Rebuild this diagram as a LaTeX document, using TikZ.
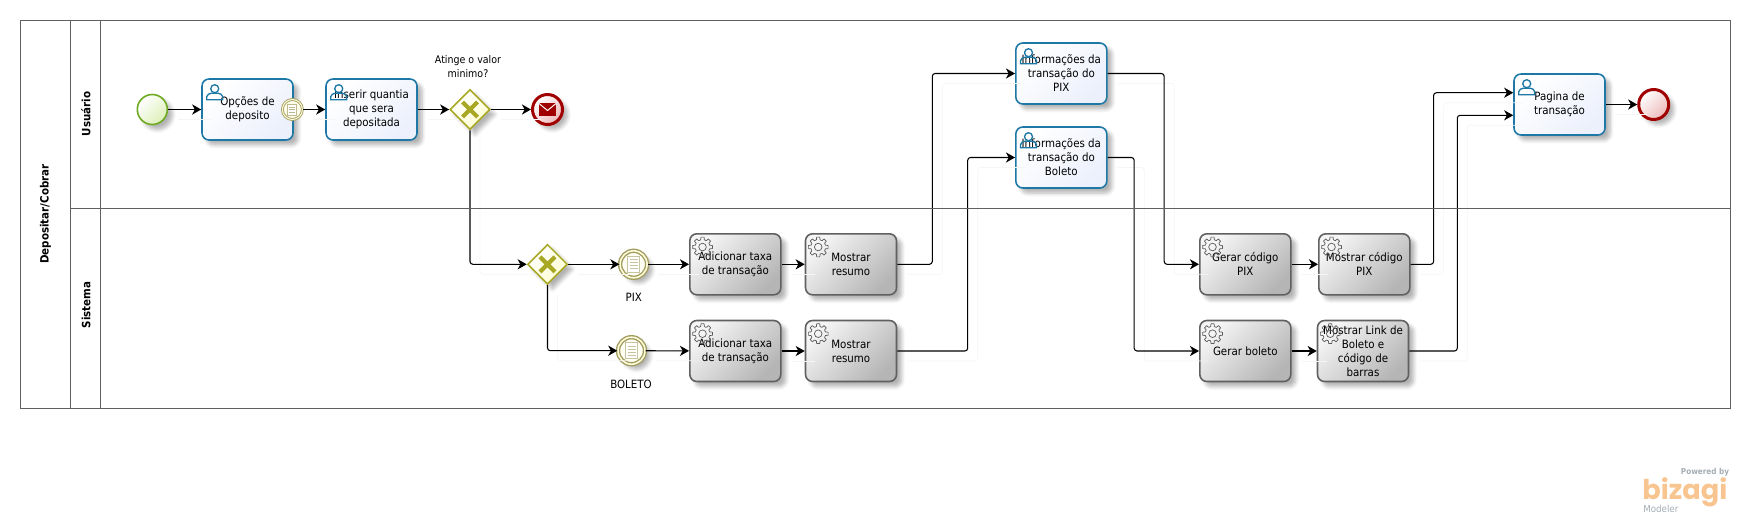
\documentclass[tikz,border=0pt]{standalone}
\usepackage{fontspec}
\setmainfont{DejaVu Sans Condensed}
\newfontfamily\logofont{Poppins}
\usepackage{tikz}
\usetikzlibrary{arrows.meta, shapes.geometric, shadows.blur}
\definecolor{poolgray}{HTML}{606060}
\definecolor{taskblue}{HTML}{1D78A6}
\definecolor{userfill}{HTML}{ECF0FC}
\definecolor{ringolive}{HTML}{A29D62}
\definecolor{gateolive}{HTML}{A8A824}
\definecolor{gearline}{HTML}{5A5A5A}
\definecolor{startgreen}{HTML}{6DAA20}
\definecolor{startfill}{HTML}{DDEFB8}
\definecolor{endred}{HTML}{A00000}
\definecolor{endfill}{HTML}{EDB9B9}
\definecolor{logoorange}{HTML}{F8C591}
\definecolor{logogray}{HTML}{A3ADB3}
\tikzset{
  usericon/.pic={
    \draw[taskblue,line width=0.75pt] (13.5,10.5) circle (4);
    \draw[taskblue,line width=0.75pt] (5.5,21.5) -- (5.5,18.5) .. controls (6,16) and (8,15.5) .. (10,15) -- (17,15) .. controls (19,15.5) and (21,16) .. (21.5,18.5) -- (21.5,21.5) -- cycle;
  },
  gearicon/.pic={
    \begin{scope}[shift={(13.5,14)}]
    \draw[gearline,line width=0.4pt] (0,0) circle (3.8);
    \foreach \a in {0,45,...,315}
      \draw[gearline,line width=0.4pt,line join=round] (\a-9:10) -- (\a+9:10) -- (\a+14:7.4) -- (\a+31:7.4) -- (\a+36:10);
    \end{scope}
  },
  docicon/.pic={
    \draw[ringolive!60,line width=0.55pt,fill=white] (-6,-8) rectangle (6,8);
    \foreach \y in {-4.5,-1.5,1.5,4.5}
      \draw[ringolive!60,line width=0.55pt] (-4,\y) -- (4,\y);
  },
  smalldoc/.pic={
    \draw[ringolive!70,line width=0.5pt,fill=white] (-4.5,-5.5) rectangle (4.5,5.5);
    \foreach \y in {-2.5,0,2.5}
      \draw[ringolive!70,line width=0.5pt] (-3,\y) -- (3,\y);
  },
  mailicon/.pic={
    \fill[endred] (-8.5,-6.5) rectangle (8.5,6.5);
    \draw[white,line width=0.55pt] (-8.5,-6) -- (0,1) -- (8.5,-6);
  },
  gatecross/.pic={
    \draw[gateolive,line width=2.4pt] (-7.5,-7.5) -- (7.5,7.5) (-7.5,7.5) -- (7.5,-7.5);
  }
}
\begin{document}
\begin{tikzpicture}[x=0.02cm,y=-0.02cm]
\tikzstyle{softshadow}=[blur shadow={shadow xshift=0.1cm,shadow yshift=-0.1cm,shadow blur steps=6,shadow opacity=30}]
\tikzstyle{tasktext}=[font=\fontsize{6.5pt}{7.97pt}\selectfont,align=center,inner sep=0pt,text=black]
\tikzstyle{usertask}=[rectangle,rounded corners=0.14cm,draw=taskblue,line width=0.9pt,minimum width=1.82cm,minimum height=1.22cm,top color=white,bottom color=userfill,shading angle=45,softshadow,tasktext]
\tikzstyle{servtask}=[rectangle,rounded corners=0.14cm,draw=poolgray,line width=0.9pt,minimum width=1.82cm,minimum height=1.22cm,top color=black!4,bottom color=black!29,shading angle=45,softshadow,tasktext]
\tikzstyle{gateway}=[diamond,aspect=1,draw=gateolive,line width=0.9pt,minimum size=0.8cm,inner sep=0pt,top color=white,bottom color=yellow!18,shading angle=45,softshadow]
\tikzstyle{startev}=[circle,draw=startgreen,line width=0.9pt,minimum size=0.6cm,inner sep=0pt,top color=white,bottom color=startfill,shading angle=45,softshadow]
\tikzstyle{endev}=[circle,draw=endred,line width=1.7pt,minimum size=0.6cm,inner sep=0pt,top color=white,bottom color=endfill,shading angle=45,softshadow]
\tikzstyle{ruleev}=[circle,draw=ringolive,double=yellow!15,double distance=0.9pt,line width=0.8pt,minimum size=0.54cm,inner sep=0pt,fill=yellow!5,softshadow]
\tikzstyle{attachev}=[circle,draw=ringolive,double=yellow!15,double distance=0.6pt,line width=0.5pt,minimum size=0.4cm,inner sep=0pt,fill=yellow!8]
\tikzstyle{evlabel}=[font=\fontsize{6.5pt}{7.97pt}\selectfont,align=center,inner sep=0pt]
\tikzstyle{lanelabel}=[font=\fontsize{6.5pt}{7.97pt}\selectfont\bfseries,rotate=90,inner sep=0pt]
\tikzstyle{flow}=[-{Stealth[length=5.2pt,width=5.8pt,inset=1.6pt]},line width=0.6pt,rounded corners=1.6pt,preaction={draw=black!4,-,transform canvas={shift={(0.2cm,-0.2cm)}}}]

\useasboundingbox (0,0) rectangle (1750,521);

\node[lanelabel] (poolname) at (45.5,214) {Depositar/Cobrar};
\node[lanelabel] (laneuser) at (86,114) {Usuário};
\node[lanelabel] (lanesys) at (86,305) {Sistema};

\node[startev] (start) at (152.3,109.5) {};
\node[usertask] (options) at (247.5,109.5) {Opções de\\deposito};
\node[usertask] (amount) at (371.5,109.5) {Inserir quantia\\que sera\\depositada};
\node[gateway] (gwvalue) at (470,109.5) {};
\node[evlabel,font=\fontsize{6pt}{7.97pt}\selectfont] (gwtext) at (468,67) {Atinge o valor\\minimo?};
\node[endev] (mailend) at (547.5,109.5) {};
\node[attachev] (attach) at (292.4,109.5) {};

\node[gateway] (gwpay) at (547.5,264.3) {};
\node[ruleev] (evpix) at (633.6,264.3) {};
\node[evlabel] (pixtext) at (633.7,297) {PIX};
\node[ruleev] (evbol) at (631.5,350.7) {};
\node[evlabel] (boltext) at (631,384) {BOLETO};
\node[servtask] (feepix) at (735.3,264.3) {Adicionar taxa\\de transação};
\node[servtask] (sumpix) at (851,264.3) {Mostrar\\resumo};
\node[servtask] (feebol) at (735.3,351) {Adicionar taxa\\de transação};
\node[servtask] (sumbol) at (851,351) {Mostrar\\resumo};
\node[usertask] (infopix) at (1061.3,73.5) {Informações da\\transação do\\PIX};
\node[usertask] (infobol) at (1061.3,157.5) {Informações da\\transação do\\Boleto};
\node[servtask] (genpix) at (1245.3,264.3) {Gerar código\\PIX};
\node[servtask] (showpix) at (1364.3,264.3) {Mostrar código\\PIX};
\node[servtask] (genbol) at (1245.3,351) {Gerar boleto};
\node[servtask] (showbol) at (1363,351) {Mostrar Link de\\Boleto e\\código de\\barras};
\node[usertask] (page) at (1559.5,104.5) {Pagina de\\transação};
\node[endev] (finish) at (1653.7,104.5) {};

\pic at (options.north west) {usericon};
\pic at (amount.north west) {usericon};
\pic at (infopix.north west) {usericon};
\pic at (infobol.north west) {usericon};
\pic at (page.north west) {usericon};
\pic at (feepix.north west) {gearicon};
\pic at (sumpix.north west) {gearicon};
\pic at (feebol.north west) {gearicon};
\pic at (sumbol.north west) {gearicon};
\pic at (genpix.north west) {gearicon};
\pic at (showpix.north west) {gearicon};
\pic at (genbol.north west) {gearicon};
\pic at (showbol.north west) {gearicon};
\pic at (gwvalue) {gatecross};
\pic at (gwpay) {gatecross};
\pic at (mailend) {mailicon};
\pic at (attach) {smalldoc};
\pic at (evpix) {docicon};
\pic at (evbol) {docicon};

\draw[flow] (start) -- (options);
\draw[flow] (attach) -- (amount);
\draw[flow] (amount) -- (gwvalue);
\draw[flow] (gwvalue) -- (mailend);
\draw[flow] (gwvalue) |- (gwpay);
\draw[flow] (gwpay) -- (evpix);
\draw[flow] (gwpay) |- (evbol);
\draw[flow] (evpix) -- (feepix);
\draw[flow] (evbol) -- (feebol);
\draw[flow] (feepix) -- (sumpix);
\draw[flow] (feebol) -- (sumbol);
\draw[flow] (sumpix.east) -- ++(35,0) |- (infopix);
\draw[flow] (sumbol.east) -- ++(70.4,0) |- (infobol);
\draw[flow] (infopix.east) -- ++(56.6,0) |- (genpix);
\draw[flow] (infobol.east) -- ++(26.6,0) |- (genbol);
\draw[flow] (genpix) -- (showpix);
\draw[flow] (genbol) -- (showbol);
\draw[flow] (showpix.east) -- ++(23,0) |- ([yshift=0.236cm]page.west);
\draw[flow] (showbol.east) -- ++(48,0) |- ([yshift=-0.216cm]page.west);
\draw[flow] (page) -- (finish);

\draw[poolgray,line width=0.57pt] (20.7,20) rectangle (1730,408);
\draw[poolgray,line width=0.57pt] (70.8,20) -- (70.8,408);
\draw[poolgray,line width=0.57pt] (100.3,20) -- (100.3,408);
\draw[poolgray,line width=0.57pt] (70.8,208) -- (1730,208);

\node[font=\fontsize{4.6pt}{5pt}\selectfont\bfseries,text=logogray,inner sep=0pt] (logotop) at (1705,472) {Powered by};
\node[font=\logofont\fontsize{15.5pt}{16pt}\selectfont\bfseries,text=logoorange,inner sep=0pt,anchor=west] (logoname) at (1642,492) {bizagi};
\node[font=\fontsize{5.5pt}{6pt}\selectfont,text=logogray,inner sep=0pt,anchor=west] (logobase) at (1643,509) {Modeler};
\end{tikzpicture}
\end{document}
